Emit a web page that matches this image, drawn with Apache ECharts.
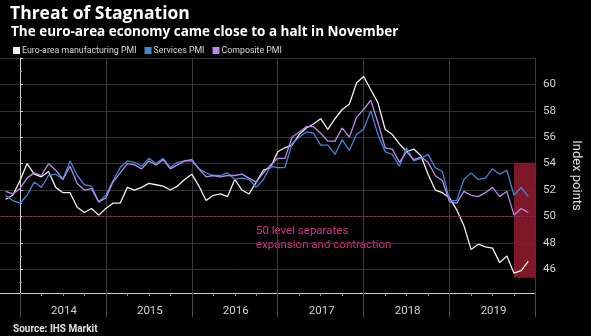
<!DOCTYPE html>
<html><head><meta charset="utf-8">
<script src="https://cdn.jsdelivr.net/npm/echarts@6/dist/echarts.min.js"></script>
<style>html,body{margin:0;padding:0;background:#000;overflow:hidden}
#wrap{position:relative;width:591px;height:336px;overflow:hidden}
#c{position:absolute;left:-69px;top:0;width:660px;height:336px}</style>
</head><body><div id="wrap"><div id="c"></div></div>
<script>
// month-end observations, Oct 2013 .. Nov 2019
const months = [
 '2013-10','2013-11','2013-12',
 '2014-01','2014-02','2014-03','2014-04','2014-05','2014-06','2014-07','2014-08','2014-09','2014-10','2014-11','2014-12',
 '2015-01','2015-02','2015-03','2015-04','2015-05','2015-06','2015-07','2015-08','2015-09','2015-10','2015-11','2015-12',
 '2016-01','2016-02','2016-03','2016-04','2016-05','2016-06','2016-07','2016-08','2016-09','2016-10','2016-11','2016-12',
 '2017-01','2017-02','2017-03','2017-04','2017-05','2017-06','2017-07','2017-08','2017-09','2017-10','2017-11','2017-12',
 '2018-01','2018-02','2018-03','2018-04','2018-05','2018-06','2018-07','2018-08','2018-09','2018-10','2018-11','2018-12',
 '2019-01','2019-02','2019-03','2019-04','2019-05','2019-06','2019-07','2019-08','2019-09','2019-10','2019-11'
];
const manufacturing = [
 51.3,51.6,52.7,
 54.0,53.2,53.0,53.4,52.2,51.8,51.8,50.7,50.3,50.6,50.1,50.6,
 51.0,51.0,52.2,52.0,52.2,52.5,52.4,52.3,52.0,52.3,52.8,53.2,
 52.3,51.2,51.6,51.7,51.5,52.8,52.0,51.7,52.6,53.5,53.7,54.9,
 55.2,55.4,56.2,56.7,57.0,57.4,56.6,57.4,58.1,58.5,60.1,60.6,
 59.6,58.6,56.6,56.2,55.5,54.9,55.1,54.6,53.2,52.0,51.8,51.4,
 50.5,49.3,47.5,47.9,47.7,47.6,46.5,47.0,45.7,45.9,46.6
];
const services = [
 51.6,51.2,51.0,
 51.6,52.6,52.2,53.1,53.2,52.8,54.2,53.1,52.4,52.3,51.1,51.6,
 52.7,53.7,54.2,54.1,53.8,54.4,54.0,54.4,53.7,54.1,54.2,54.2,
 53.6,53.3,53.1,53.1,53.3,52.8,52.9,52.8,52.2,52.8,53.8,53.7,
 53.7,55.5,56.0,56.4,56.3,55.4,55.4,54.7,55.8,55.0,56.2,56.6,
 58.0,56.2,54.9,54.7,53.8,55.2,54.2,54.4,54.7,53.7,53.4,51.2,
 51.2,52.8,53.3,52.8,52.9,53.6,53.2,53.5,51.6,52.2,51.5
];
const composite = [
 51.9,51.7,52.1,
 52.9,53.3,53.1,54.0,53.5,52.8,53.8,52.5,52.0,52.1,51.1,51.4,
 52.6,53.3,54.0,53.9,53.6,54.2,53.9,54.3,53.6,53.9,54.2,54.3,
 53.6,53.0,53.1,53.0,53.1,53.1,53.2,52.9,52.6,53.3,53.9,54.4,
 54.4,56.0,56.4,56.8,56.8,56.3,55.7,55.7,56.7,56.0,57.5,58.1,
 58.8,57.1,55.2,55.1,54.1,54.9,54.3,54.5,54.1,53.1,52.7,51.1,
 51.0,51.9,51.6,51.5,51.8,52.2,51.5,51.9,50.1,50.6,50.3
];
const yearLabels = ['2014','2015','2016','2017','2018','2019'];
const seriesNames = ['Euro-area manufacturing PMI','Services PMI','Composite PMI'];
const highlightMonths = ['2019-09','2019-12'];
const highlightRange = [45.35, 54.07];
const thresholdLevel = 50;

// position of a month-end, in months from 1 Jan 2014
function monthPos(label){ const p = label.split('-').map(Number); return (p[0]-2014)*12 + p[1]; }
function pairs(vals){ return months.map((m,i)=>[monthPos(m), vals[i]]); }

const OFF = 69; // chart canvas starts 69px left of the page
const FONT = "'Open Sans', 'DejaVu Sans', sans-serif";
const NARROW = "Roboto, 'Liberation Sans', sans-serif";
const chart = echarts.init(document.getElementById('c'), null, {renderer:'canvas'});
const colors = ['#f2f2f2','#3f86d8','#b98be6'];
chart.setOption({
  backgroundColor:'#000',
  animation:false,
  textStyle:{fontFamily:FONT},
  title:[
    {text:'Threat of Stagnation', left:OFF+5, top:0, textStyle:{color:'#fff', fontSize:17.5, fontWeight:'bold', fontFamily:FONT}},
    {text:'The euro-area economy came close to a halt in November', left:OFF+6, top:20, textStyle:{color:'#fff', fontSize:13.5, fontWeight:'bold', fontFamily:FONT}},
    {text:'Source: IHS Markit', left:OFF+8, top:319, textStyle:{color:'#e0e0e0', fontSize:10, fontWeight:'bold', fontFamily:NARROW}}
  ],
  legend:{
    left:OFF+8, top:41, itemWidth:7, itemHeight:7, itemGap:8, icon:'rect',
    data:seriesNames,
    textStyle:{color:'#d8d8d8', fontSize:8.8, padding:[0,0,0,-3], fontFamily:NARROW}
  },
  grid:{left:0.5, right:40, top:58, bottom:43, containLabel:false},
  xAxis:{
    type:'value', min:-12, max:72, interval:12,
    axisLine:{show:true, lineStyle:{color:'#d0d0d0', width:1}},
    axisTick:{show:true, length:24, lineStyle:{color:'#4a4a4a'}},
    minorTick:{show:true, splitNumber:4, length:3, lineStyle:{color:'#999'}},
    splitLine:{show:true, lineStyle:{color:'#3a3a3a', width:1}},
    axisLabel:{
      margin:12, color:'#d0d0d0', fontSize:11.5,
      formatter:function(v){
        const i = Math.round(v/12);
        if (Math.abs(v - i*12) > 0.01) return '';
        const l = yearLabels[i];
        return l ? '{y|' + l + '}' : '';
      },
      rich:{y:{padding:[0,0,0,88], color:'#d0d0d0', fontSize:11.5, fontFamily:NARROW}}
    }
  },
  yAxis:{
    type:'value', position:'right', min:44.2, max:62, splitNumber:9, offset:3.5,
    name:'Index points', nameLocation:'middle', nameRotate:-90, nameGap:31,
    nameTextStyle:{color:'#e0e0e0', fontSize:13, fontFamily:NARROW},
    axisLine:{show:true, lineStyle:{color:'#d0d0d0'}},
    axisTick:{show:true, length:3, lineStyle:{color:'#d0d0d0'}},
    minorTick:{show:true, splitNumber:2, length:2, lineStyle:{color:'#aaa'}},
    splitLine:{show:true, lineStyle:{color:'#333'}},
    axisLabel:{
      color:'#d0d0d0', fontSize:11.5, margin:4, fontFamily:NARROW,
      formatter:function(v){ return (v>=46 && v<=60 && Math.abs(v-Math.round(v))<0.01) ? String(Math.round(v)) : ''; }
    }
  },
  graphic:[
    {type:'text', left:OFF+256, top:224, style:{text:'50 level separates\nexpansion and contraction', fill:'#d2377f', fontSize:11.5, lineHeight:14, fontFamily:NARROW}}
  ],
  series:[
    {type:'line', name:'_marks', data:[], z:1, silent:true,
     markArea:{silent:true, itemStyle:{color:'#8c1a2c', opacity:0.9},
       data:[[{xAxis:monthPos(highlightMonths[0]), yAxis:highlightRange[1]},{xAxis:monthPos(highlightMonths[1]), yAxis:highlightRange[0]}]]},
     markLine:{silent:true, symbol:'none', label:{show:false},
       lineStyle:{color:'#8e2b4c', type:[2,2], width:1},
       data:[{yAxis:thresholdLevel}]}
    },
    {type:'line', name:seriesNames[0], data:pairs(manufacturing), z:3, showSymbol:false, symbol:'none', lineStyle:{color:colors[0], width:1.3}, itemStyle:{color:colors[0]}},
    {type:'line', name:seriesNames[1], data:pairs(services), z:3, showSymbol:false, symbol:'none', lineStyle:{color:colors[1], width:1.3}, itemStyle:{color:colors[1]}},
    {type:'line', name:seriesNames[2], data:pairs(composite), z:3, showSymbol:false, symbol:'none', lineStyle:{color:colors[2], width:1.3}, itemStyle:{color:colors[2]}}
  ]
});
</script></body></html>
